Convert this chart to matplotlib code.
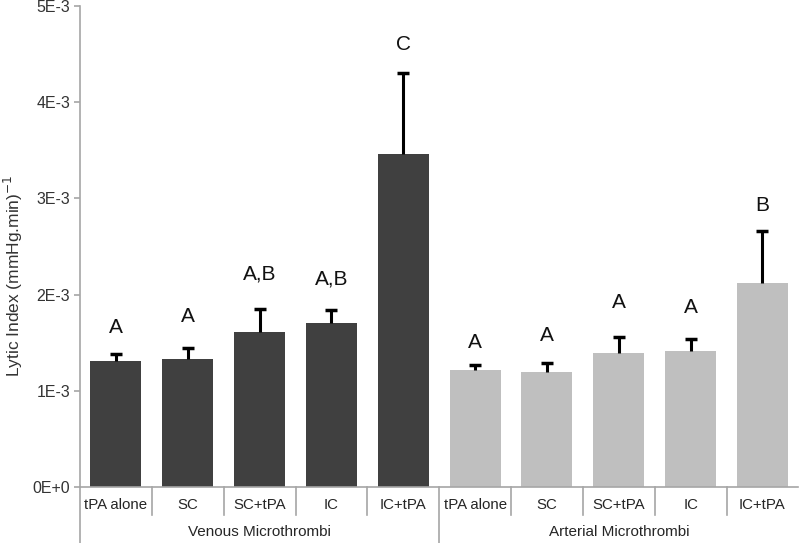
import matplotlib
matplotlib.use("Agg")
import matplotlib.pyplot as plt
import numpy as np

plt.rcParams['font.family'] = ['Liberation Sans', 'DejaVu Sans']

categories = ["tPA alone", "SC", "SC+tPA", "IC", "IC+tPA"]
groups = ["Venous Microthrombi", "Arterial Microthrombi"]
venous_mean = [1.31e-3, 1.33e-3, 1.61e-3, 1.70e-3, 3.46e-3]
venous_err = [0.07e-3, 0.12e-3, 0.24e-3, 0.14e-3, 0.84e-3]
arterial_mean = [1.22e-3, 1.20e-3, 1.39e-3, 1.41e-3, 2.12e-3]
arterial_err = [0.05e-3, 0.09e-3, 0.17e-3, 0.13e-3, 0.54e-3]
venous_letters = ["A", "A", "A,B", "A,B", "C"]
arterial_letters = ["A", "A", "A", "A", "B"]
venous_letter_y = [1.66e-3, 1.77e-3, 2.21e-3, 2.16e-3, 4.60e-3]
arterial_letter_y = [1.50e-3, 1.57e-3, 1.92e-3, 1.87e-3, 2.93e-3]
yticks = [0, 1e-3, 2e-3, 3e-3, 4e-3, 5e-3]
ytick_labels = ["0E+0", "1E-3", "2E-3", "3E-3", "4E-3", "5E-3"]

fig = plt.figure(figsize=(8, 5.43), dpi=100)
ax = fig.add_axes([0.1, 1 - 487 / 543, 0.898, (487 - 6) / 543])

n = len(categories)
xv = np.arange(n)
xa = np.arange(n) + n
width = 0.71
ax.bar(xv, venous_mean, width=width, color="#404040", zorder=2)
ax.bar(xa, arterial_mean, width=width, color="#bfbfbf", zorder=2)


def upper_err(xs, means, errs):
    means = np.asarray(means)
    errs = np.asarray(errs)
    tops = means + errs
    ax.vlines(xs, means, tops, colors="black", linewidth=2.2, zorder=3)
    ax.plot(xs, tops, linestyle="none", marker="_", markersize=8,
            markeredgewidth=2.5, color="black", zorder=3)


upper_err(xv, venous_mean, venous_err)
upper_err(xa, arterial_mean, arterial_err)

for x, y, t in zip(xv, venous_letter_y, venous_letters):
    ax.text(x, y, t, ha="center", va="center", fontsize=15, color="#111111")
for x, y, t in zip(xa, arterial_letter_y, arterial_letters):
    ax.text(x, y, t, ha="center", va="center", fontsize=15, color="#111111")

ax.set_xlim(-0.5, 2 * n - 0.5)
ax.set_ylim(0, 5e-3)
ax.set_yticks(yticks)
ax.set_yticklabels(ytick_labels, fontsize=11.5, color="#333333")
ax.set_xticks([])
for s in ["top", "right"]:
    ax.spines[s].set_visible(False)
for s in ["left", "bottom"]:
    ax.spines[s].set_color("#a6a6a6")
    ax.spines[s].set_linewidth(1.2)
ax.tick_params(axis="y", length=4, color="#a6a6a6", width=1.2, pad=3)

ax.set_ylabel("Lytic Index (mmHg.min)$^{-1}$", fontsize=12.5, color="#333333")
ax.yaxis.set_label_coords(-0.077, 0.44)

trans = ax.get_xaxis_transform()
axh = 481.0
y_cat = -18 / axh
y_grp = -45 / axh
y_sep = -28 / axh
y_bot = -56 / axh
allx = list(xv) + list(xa)
for x, t in zip(allx, categories + categories):
    ax.text(x, y_cat, t, transform=trans, ha="center", va="center", fontsize=10.8, color="#262626")
for i in range(1, 2 * n):
    if i == n:
        continue
    ax.plot([i - 0.5, i - 0.5], [0, y_sep], transform=trans, color="#a6a6a6", lw=1.2, clip_on=False)
for xb in [-0.5, n - 0.5]:
    ax.plot([xb, xb], [0, y_bot], transform=trans, color="#a6a6a6", lw=1.2, clip_on=False)
ax.text((n - 1) / 2, y_grp, groups[0], transform=trans, ha="center", va="center", fontsize=11, color="#262626")
ax.text(n + (n - 1) / 2, y_grp, groups[1], transform=trans, ha="center", va="center", fontsize=11, color="#262626")

fig.savefig("out.png", dpi=100)
